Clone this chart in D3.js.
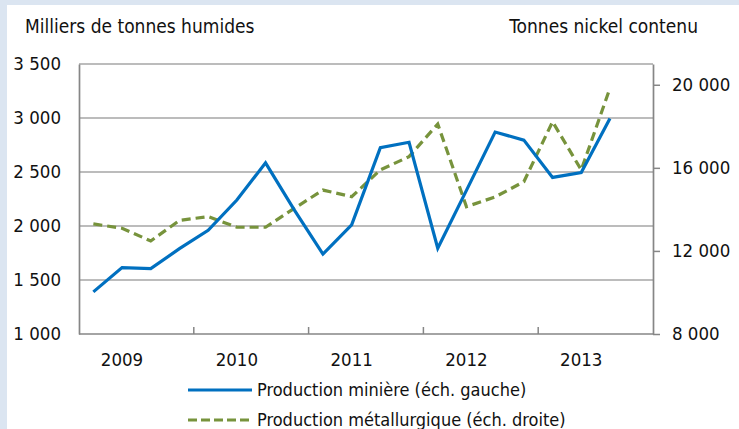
<!DOCTYPE html>
<html>
<head>
<meta charset="utf-8">
<script src="https://cdn.jsdelivr.net/npm/d3@7"></script>
<style>
  body { margin: 0; background: #dbe5f1; }
  svg { display: block; }
  text { font-family: "DejaVu Sans Condensed", "DejaVu Sans", sans-serif; font-stretch: condensed; fill: #111; }
</style>
</head>
<body>
<div id="chart"></div>
<script>
// quarters 2009 T1 .. 2013 T4 (last quarter has no value)
var quarters = d3.range(20);
var yearLabels = ["2009", "2010", "2011", "2012", "2013"];

// Production minière, milliers de tonnes humides (échelle gauche)
var miniere = [1390, 1615, 1605, 1790, 1960, 2240, 2585, 2150, 1740, 2010,
               2725, 2775, 1795, 2330, 2870, 2795, 2450, 2495, 2995];
// Production métallurgique, tonnes nickel contenu (échelle droite)
var metallurgique = [13300, 13090, 12480, 13470, 13650, 13140, 13140, 14050, 14930, 14610,
                     15900, 16540, 18110, 14130, 14600, 15330, 18220, 15900, 19830];

var leftTicks = [1000, 1500, 2000, 2500, 3000, 3500];
var rightTicks = [8000, 12000, 16000, 20000];
var legendLabels = ["Production minière (éch. gauche)", "Production métallurgique (éch. droite)"];

var W = 739, H = 429;
var plot = {left: 79, right: 653, top: 64, bottom: 334};
var blue = "#0070c0", green = "#77933c", axisGrey = "#868686";
var fs = "18.5px";

var fmt = function(v) { return d3.format(",")(v).replace(/,/g, " "); };

var svg = d3.select("#chart").append("svg").attr("width", W).attr("height", H);

// white panel on the light blue frame
svg.append("rect").attr("x", 7).attr("y", 5).attr("width", W - 7).attr("height", H - 5)
  .attr("fill", "#fff");

var x = d3.scaleBand().domain(quarters).range([plot.left, plot.right]);
var cx = function(i) { return x(i) + x.bandwidth() / 2; };
var yL = d3.scaleLinear().domain([1000, 3500]).range([plot.bottom, plot.top]);
var yR = d3.scaleLinear().domain([8000, 21000]).range([plot.bottom, plot.top]);

// gridlines
svg.append("g").selectAll("line").data(leftTicks.slice(1)).enter().append("line")
  .attr("x1", plot.left).attr("x2", plot.right)
  .attr("y1", function(d) { return yL(d); }).attr("y2", function(d) { return yL(d); })
  .attr("stroke", "#a6a6a6").attr("stroke-width", 1.3);

// left axis
var gL = svg.append("g").attr("transform", "translate(" + plot.left + ",0)")
  .call(d3.axisLeft(yL).tickValues(leftTicks).tickFormat(fmt).tickSize(0).tickPadding(18));
gL.select(".domain").attr("stroke", axisGrey).attr("stroke-width", 1.7);
gL.selectAll("text").style("font-size", fs).attr("fill", "#111");

// right axis
var gR = svg.append("g").attr("transform", "translate(" + plot.right + ",0)")
  .call(d3.axisRight(yR).tickValues(rightTicks).tickFormat(fmt).tickSizeInner(7).tickSizeOuter(0).tickPadding(12));
gR.select(".domain").attr("stroke", axisGrey).attr("stroke-width", 1.7);
gR.selectAll(".tick line").attr("stroke", axisGrey).attr("stroke-width", 1.5);
gR.selectAll("text").style("font-size", fs).attr("fill", "#111");

// bottom axis: tick marks between years, labels under 2nd quarter
var gB = svg.append("g").attr("transform", "translate(0," + plot.bottom + ")");
gB.append("line").attr("x1", plot.left).attr("x2", plot.right)
  .attr("stroke", axisGrey).attr("stroke-width", 1.7);
gB.selectAll(".yt").data([4, 8, 12, 16]).enter().append("line")
  .attr("x1", function(d) { return x(d); }).attr("x2", function(d) { return x(d); })
  .attr("y1", 0).attr("y2", -7).attr("stroke", axisGrey).attr("stroke-width", 1.5);
gB.selectAll("text").data(yearLabels).enter().append("text")
  .attr("x", function(d, i) { return cx(i * 4 + 1); }).attr("y", 32)
  .attr("text-anchor", "middle").style("font-size", fs).text(function(d) { return d; });

// series
var lineL = d3.line().x(function(d, i) { return cx(i); }).y(function(d) { return yL(d); });
var lineR = d3.line().x(function(d, i) { return cx(i); }).y(function(d) { return yR(d); });

svg.append("path").datum(metallurgique).attr("d", lineR).attr("fill", "none")
  .attr("stroke", green).attr("stroke-width", 3.2).attr("stroke-dasharray", "9,5");
svg.append("path").datum(miniere).attr("d", lineL).attr("fill", "none")
  .attr("stroke", blue).attr("stroke-width", 3.2).attr("stroke-linejoin", "miter");

// axis titles
svg.append("text").attr("x", 25).attr("y", 33).style("font-size", "19px").text("Milliers de tonnes humides");
svg.append("text").attr("x", 698).attr("y", 33).attr("text-anchor", "end").style("font-size", "19px").text("Tonnes nickel contenu");

// legend
var leg = svg.append("g");
[{c: blue, dash: null, y: 390}, {c: green, dash: "9,4", y: 420}].forEach(function(s, i) {
  leg.append("line").attr("x1", 188).attr("x2", 252).attr("y1", s.y).attr("y2", s.y)
    .attr("stroke", s.c).attr("stroke-width", 3.2).attr("stroke-dasharray", s.dash);
  leg.append("text").attr("x", 257).attr("y", s.y).attr("dy", "0.35em")
    .style("font-size", "18px").text(legendLabels[i]);
});
</script>
</body>
</html>
